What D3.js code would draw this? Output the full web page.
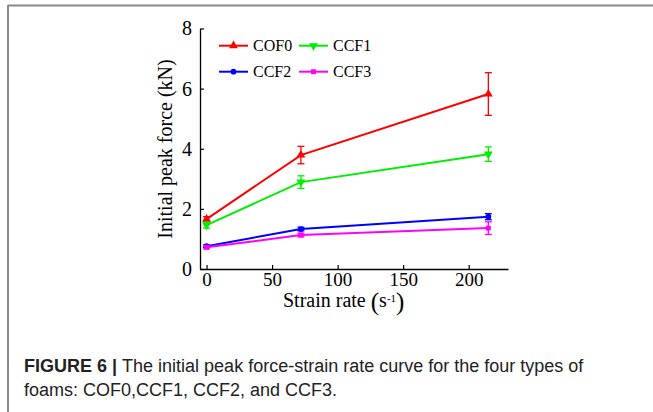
<!DOCTYPE html>
<html>
<head>
<meta charset="utf-8">
<script src="https://cdn.jsdelivr.net/npm/d3@7"></script>
<style>
  body { margin: 0; background: #fff; }
  svg { display: block; }
</style>
</head>
<body>
<div id="chart"></div>
<script>
// values
var strainRate = [0, 72, 215];
var seriesNames = ["COF0", "CCF1", "CCF2", "CCF3"];
var cof0 = [1.66, 3.79, 5.82];
var ccf1 = [1.46, 2.89, 3.82];
var ccf2 = [0.76, 1.33, 1.74];
var ccf3 = [0.72, 1.13, 1.36];
var cof0Err = [0.08, 0.29, 0.71];
var ccf1Err = [0.1, 0.21, 0.24];
var ccf2Err = [0.04, 0.06, 0.1];
var ccf3Err = [0.05, 0.06, 0.21];
var xTicks = [0, 50, 100, 150, 200];
var yTicks = [0, 2, 4, 6, 8];

var colors = ["#ff0000", "#00ee00", "#0000ff", "#ff00ff"];
var symbols = [d3.symbolTriangle, "down", d3.symbolCircle, d3.symbolSquare];
var values = [cof0, ccf1, ccf2, ccf3];
var errors = [cof0Err, ccf1Err, ccf2Err, ccf3Err];

var W = 653, H = 412;
var svg = d3.select("#chart").append("svg")
    .attr("width", W)
    .attr("height", H);

// frame around the figure
svg.append("line").attr("x1", 8).attr("x2", W).attr("y1", 5.5).attr("y2", 5.5)
    .style("stroke", "#8a8a8a").style("stroke-width", 2);
svg.append("line").attr("x1", 8).attr("x2", 8).attr("y1", 5).attr("y2", H)
    .style("stroke", "#8a8a8a").style("stroke-width", 2);

var x = d3.scaleLinear().domain([-5, 230]).range([200, 508]);
var y = d3.scaleLinear().domain([0, 8]).range([269, 28.5]);

var serif = "'Liberation Serif', 'Times New Roman', serif";

var g = svg.append("g");

g.append("g")
    .attr("class", "axis axis--x")
    .attr("transform", "translate(0," + y(0) + ")")
    .call(d3.axisBottom(x).tickValues(xTicks).tickSizeInner(-4).tickSizeOuter(0).tickPadding(4))
    .attr("font-family", serif)
    .attr("font-size", 19)
    .call(function (a) {
        a.select(".domain").style("stroke-width", 1.3);
        a.selectAll("line").style("stroke-width", 1.2);
        a.selectAll("text").attr("font-family", serif).style("font-family", serif).style("font-size", "19px");
    });

g.append("g")
    .attr("class", "axis axis--y")
    .attr("transform", "translate(" + x(-5) + ",0)")
    .call(d3.axisLeft(y).tickValues(yTicks).tickSizeInner(-4).tickSizeOuter(0).tickPadding(8))
    .attr("font-family", serif)
    .attr("font-size", 20)
    .call(function (a) {
        a.select(".domain").style("stroke-width", 1.3);
        a.selectAll("line").style("stroke-width", 1.2);
        a.selectAll("text").style("font-family", serif).style("font-size", "20px");
    });

// axis titles
g.append("text")
    .attr("transform", "translate(172," + 149 + ") rotate(-90)")
    .attr("text-anchor", "middle")
    .style("font-family", serif)
    .style("font-size", "20px")
    .text("Initial peak force (kN)");

var xl = g.append("text")
    .attr("x", 283)
    .attr("y", 307)
    .style("font-family", serif)
    .style("font-size", "20px");
xl.append("tspan").text("Strain rate ");
xl.append("tspan").style("font-size", "25px").attr("dy", 3).text("(");
xl.append("tspan").attr("dy", -3).text("s");
xl.append("tspan").style("font-size", "11px").attr("dy", -5).text("-1");
xl.append("tspan").style("font-size", "25px").attr("dy", 8).text(")");

function markPath(i, size) {
    if (symbols[i] === "down")
        return d3.symbol().type(d3.symbolTriangle).size(size)();
    return d3.symbol().type(symbols[i]).size(size)();
}
var markSize = [34, 34, 26, 24];

var line = d3.line()
    .x(function (d) { return x(d.x); })
    .y(function (d) { return y(d.y); });

seriesNames.forEach(function (name, i) {
    var pts = strainRate.map(function (s, j) {
        return {x: s, y: values[i][j], e: errors[i][j]};
    });
    var sg = g.append("g").attr("class", "series");

    sg.append("path")
        .datum(pts)
        .attr("d", line)
        .style("fill", "none")
        .style("stroke", colors[i])
        .style("stroke-width", 2);

    var eb = sg.selectAll(".err").data(pts).enter().append("g").attr("class", "err")
        .style("stroke", colors[i]).style("stroke-width", 1.3);
    eb.append("line")
        .attr("x1", function (d) { return x(d.x); })
        .attr("x2", function (d) { return x(d.x); })
        .attr("y1", function (d) { return y(d.y - d.e); })
        .attr("y2", function (d) { return y(d.y + d.e); });
    eb.append("line")
        .attr("x1", function (d) { return x(d.x) - 3.5; })
        .attr("x2", function (d) { return x(d.x) + 3.5; })
        .attr("y1", function (d) { return y(d.y + d.e); })
        .attr("y2", function (d) { return y(d.y + d.e); });
    eb.append("line")
        .attr("x1", function (d) { return x(d.x) - 3.5; })
        .attr("x2", function (d) { return x(d.x) + 3.5; })
        .attr("y1", function (d) { return y(d.y - d.e); })
        .attr("y2", function (d) { return y(d.y - d.e); });

    sg.selectAll(".mark").data(pts).enter().append("path")
        .attr("class", "mark")
        .attr("d", markPath(i, markSize[i]))
        .attr("transform", function (d) {
            return "translate(" + x(d.x) + "," + y(d.y) + ")" + (symbols[i] === "down" ? " rotate(180)" : "");
        })
        .style("fill", colors[i]);
});

// legend
var legX = [219, 299], legY = [45.7, 71.7];
seriesNames.forEach(function (name, i) {
    var lx = legX[i % 2], ly = legY[Math.floor(i / 2)];
    var lg = g.append("g").attr("transform", "translate(" + lx + "," + ly + ")");
    lg.append("line").attr("x1", 0).attr("x2", 29).attr("y1", 0).attr("y2", 0)
        .style("stroke", colors[i]).style("stroke-width", 2);
    lg.append("path")
        .attr("d", markPath(i, markSize[i]))
        .attr("transform", "translate(14.5,0)" + (symbols[i] === "down" ? " rotate(180)" : ""))
        .style("fill", colors[i]);
    lg.append("text")
        .attr("x", 34)
        .attr("y", 5.5)
        .style("font-family", serif)
        .style("font-size", "16px")
        .text(name);
});

// caption
var sans = "'Liberation Sans', Arial, sans-serif";
var cap = svg.append("text")
    .attr("x", 24)
    .attr("y", 372)
    .style("font-family", sans)
    .style("font-size", "18px")
    .style("fill", "#222");
cap.append("tspan").style("font-weight", "bold").text("FIGURE 6 | ");
cap.append("tspan").text("The initial peak force-strain rate curve for the four types of");
svg.append("text")
    .attr("x", 24)
    .attr("y", 396)
    .style("font-family", sans)
    .style("font-size", "18px")
    .style("fill", "#222")
    .text("foams: COF0,CCF1, CCF2, and CCF3.");
</script>
</body>
</html>
